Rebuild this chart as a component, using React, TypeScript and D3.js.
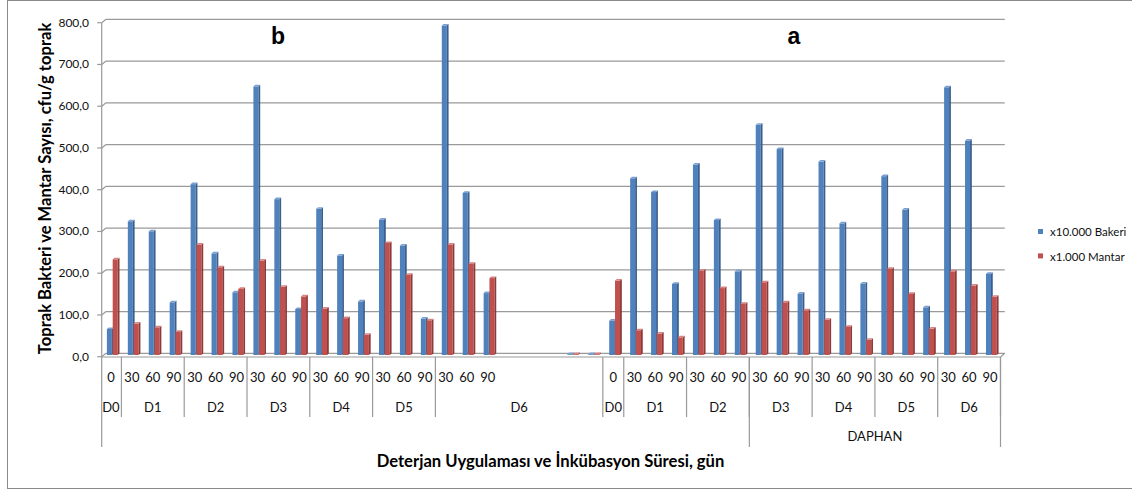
import React from "react";
import * as d3 from "d3";

// ---- data ----
const dayLabels = [
  "0", "30", "60", "90", "30", "60", "90", "30", "60", "90", "30", "60", "90", "30", "60", "90", "30", "60", "90",
  "", "", "", "", "",
  "0", "30", "60", "90", "30", "60", "90", "30", "60", "90", "30", "60", "90", "30", "60", "90", "30", "60", "90",
];
const treatmentLabels = ["D0", "D1", "D2", "D3", "D4", "D5", "D6", "D0", "D1", "D2", "D3", "D4", "D5", "D6"];
const treatmentSpans = [1, 3, 3, 3, 3, 3, 8, 1, 3, 3, 3, 3, 3, 3];
const outerLabels = ["", "DAPHAN"];
const outerSpans = [31, 12];
const bacteria: (number | null)[] = [
  62, 320, 296, 126, 409, 243, 150, 643, 373, 110, 350, 238, 128, 324, 262, 87, 789, 388, 148,
  null, null, null, 0, 0,
  82, 423, 390, 170, 456, 323, 200, 551, 493, 147, 463, 315, 171, 428, 348, 114, 641, 513, 194,
];
const fungi: (number | null)[] = [
  229, 75, 66, 55, 264, 210, 158, 226, 163, 140, 111, 88, 48, 268, 192, 83, 264, 218, 184,
  null, null, null, 0, 0,
  178, 59, 51, 42, 202, 160, 122, 174, 126, 107, 84, 67, 36, 206, 146, 63, 200, 166, 139,
];
const yTicks = [0, 100, 200, 300, 400, 500, 600, 700, 800];
const seriesNames = ["x10.000 Bakeri", "x1.000 Mantar"];
const panelLabels = ["b", "a"];
const yTitle = "Toprak Bakteri ve Mantar Sayısı, cfu/g toprak";
const xTitle = "Deterjan Uygulaması ve İnkübasyon Süresi, gün";

const FONT = "Lato, 'Open Sans', sans-serif";

export default function App() {
  const W = 1132, H = 491;
  const idx = d3.range(dayLabels.length);
  const x = d3.scaleBand<number>().domain(idx).range([100.5, 1000.5]).padding(0);
  const y = d3.scaleLinear().domain([0, 800]).range([353.3, 19.3]);
  const bw = x.bandwidth();
  const DX = 4.3, DY = 3.4; // 3D depth offset
  const axisX = 101.7;
  const floorY = 357;
  const baseY = 355;

  const colors = [
    { front: "#4F81BD", side: "#3A5F8E", top: "#7A9FD0" },
    { front: "#C0504D", side: "#8E3A38", top: "#D98280" },
  ];
  const offsets = [6.4, 12.2];
  const fw = 5.0, sw = 1.8, th = 1.6;

  const bars: JSX.Element[] = [];
  [bacteria, fungi].forEach((series, s) => {
    series.forEach((v, i) => {
      if (v === null) return;
      const x0 = (x(i) as number) + offsets[s];
      const yt = Math.min(y(v), baseY - th - 0.8);
      const c = colors[s];
      bars.push(
        <g key={`b${s}-${i}`}>
          <rect x={x0} y={yt + th} width={fw} height={baseY - yt - th} fill={c.front} />
          <polygon
            points={`${x0 + fw},${yt + th} ${x0 + fw + sw},${yt} ${x0 + fw + sw},${baseY - th} ${x0 + fw},${baseY}`}
            fill={c.side}
          />
          <polygon
            points={`${x0},${yt + th} ${x0 + sw},${yt} ${x0 + fw + sw},${yt} ${x0 + fw},${yt + th}`}
            fill={c.top}
          />
        </g>
      );
    });
  });

  const tBounds: { label: string; start: number; end: number }[] = [];
  let acc = 0;
  treatmentSpans.forEach((n, k) => {
    tBounds.push({ label: treatmentLabels[k], start: acc, end: acc + n });
    acc += n;
  });
  const oBounds: { label: string; start: number; end: number }[] = [];
  acc = 0;
  outerSpans.forEach((n, k) => {
    oBounds.push({ label: outerLabels[k], start: acc, end: acc + n });
    acc += n;
  });
  const edge = (i: number) => (i >= dayLabels.length ? x.range()[1] : (x(i) as number));
  const gridColor = "#9a9a9a";
  const xRight = x.range()[1];
  const txt = "#111";

  return (
    <svg
      width={W}
      height={H}
      style={{ position: "absolute", left: 0, top: 0, background: "#fff" }}
      fontFamily={FONT}
    >
      <rect x={7.5} y={0.5} width={1130} height={488} fill="#fff" stroke="#8a8a8a" strokeWidth={1} />

      {yTicks.map((t) => (
        <g key={`g${t}`}>
          <line x1={axisX + DX} x2={xRight + DX} y1={y(t)} y2={y(t)} stroke={gridColor} strokeWidth={1.2} />
          <line x1={axisX} y1={y(t) + DY} x2={axisX + DX} y2={y(t)} stroke={gridColor} strokeWidth={1.2} />
          <line x1={axisX - 4.5} x2={axisX} y1={y(t) + DY} y2={y(t) + DY} stroke={gridColor} strokeWidth={1.2} />
          <text x={89} y={y(t) + DY + 4} textAnchor="end" fontSize={12} fill={txt}>
            {d3.format(".1f")(t).replace(".", ",")}
          </text>
        </g>
      ))}
      <line x1={axisX} x2={axisX} y1={y(800) + DY} y2={447} stroke={gridColor} strokeWidth={1.2} />
      <line x1={axisX} x2={xRight} y1={floorY} y2={floorY} stroke={gridColor} strokeWidth={1.2} />
      <line x1={xRight} y1={floorY} x2={xRight + DX} y2={y(0)} stroke={gridColor} strokeWidth={1.2} />

      {bars}

      {dayLabels.map((d, i) => (
        <text key={`d${i}`} x={(x(i) as number) + bw / 2} y={381.5} textAnchor="middle" fontSize={13} fill={txt}>
          {d}
        </text>
      ))}
      {tBounds.map((b, k) => (
        <g key={`t${k}`}>
          <line x1={edge(b.end)} x2={edge(b.end)} y1={floorY} y2={417} stroke={gridColor} strokeWidth={1.2} />
          <text x={(edge(b.start) + edge(b.end)) / 2} y={411.5} textAnchor="middle" fontSize={13} fill={txt}>
            {b.label}
          </text>
        </g>
      ))}
      {oBounds.map((b, k) => (
        <g key={`o${k}`}>
          <line x1={edge(b.end)} x2={edge(b.end)} y1={floorY} y2={447} stroke={gridColor} strokeWidth={1.2} />
          <text x={(edge(b.start) + edge(b.end)) / 2} y={441} textAnchor="middle" fontSize={13} fill={txt}>
            {b.label}
          </text>
        </g>
      ))}

      <text x={278} y={43.5} textAnchor="middle" fontSize={23} fontWeight="bold" fontFamily="'Liberation Sans', Arial, sans-serif">
        {panelLabels[0]}
      </text>
      <text x={794} y={44} textAnchor="middle" fontSize={23} fontWeight="bold" fontFamily="'Liberation Sans', Arial, sans-serif">
        {panelLabels[1]}
      </text>

      <text transform={`translate(50.5,188.5) rotate(-90)`} textAnchor="middle" fontSize={16.6} fontWeight="bold" fill="#000">
        {yTitle}
      </text>
      <text x={550.5} y={466.5} textAnchor="middle" fontSize={16.6} fontWeight="bold" fill="#000">
        {xTitle}
      </text>

      {seriesNames.map((n, s) => (
        <g key={`l${s}`}>
          <rect x={1038} y={229 + s * 24.4} width={5} height={5} fill={colors[s].front} />
          <text x={1050} y={236.3 + s * 24.4} fontSize={11.5} fill={txt}>
            {n}
          </text>
        </g>
      ))}
    </svg>
  );
}
